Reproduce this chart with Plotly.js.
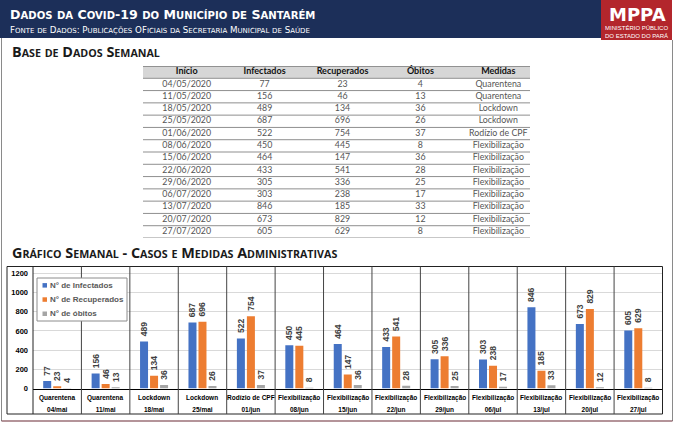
<!DOCTYPE html>
<html>
<head>
<meta charset="utf-8">
<script src="https://cdn.plot.ly/plotly-3.0.1.min.js"></script>
<style>html,body{margin:0;padding:0;background:#fff;}#chart{width:678px;height:424px;}</style>
</head>
<body>
<div id="chart"></div>
<script>
// ---------- data ----------
const startDates = ['04/05/2020','11/05/2020','18/05/2020','25/05/2020','01/06/2020','08/06/2020','15/06/2020','22/06/2020','29/06/2020','06/07/2020','13/07/2020','20/07/2020','27/07/2020'];
const weekLabels = ['04/mai','11/mai','18/mai','25/mai','01/jun','08/jun','15/jun','22/jun','29/jun','06/jul','13/jul','20/jul','27/jul'];
const infected  = [77,156,489,687,522,450,464,433,305,303,846,673,605];
const recovered = [23,46,134,696,754,445,147,541,336,238,185,829,629];
const deaths    = [4,13,36,26,37,8,36,28,25,17,33,12,8];
const measures  = ['Quarentena','Quarentena','Lockdown','Lockdown','Rodízio de CPF','Flexibilização','Flexibilização','Flexibilização','Flexibilização','Flexibilização','Flexibilização','Flexibilização','Flexibilização'];
const tableHeaders = ['Início','Infectados','Recuperados','Óbitos','Medidas'];
const seriesNames = ['N° de Infectados','N° de Recuperados','N° de óbitos'];
const yTicks = [0,200,400,600,800,1000,1200];

// ---------- helpers ----------
const W = 678, H = 424;
const X = p => p / W;
const Y = p => 1 - p / H;
const colors = ['#4472C4','#ED7D31','#A5A5A5'];
const series = [infected, recovered, deaths];

// manual small caps: lowercase letters become smaller capitals
function smallCaps(s, big, small) {
  let out = '', run = '', runSmall = null;
  const flush = () => { if (run) out += '<span style="font-size:' + (runSmall ? small : big) + 'px">' + run + '</span>'; run = ''; };
  for (const ch of s) {
    const isLower = ch !== ch.toUpperCase();
    if (runSmall !== null && isLower !== runSmall) flush();
    runSmall = isLower;
    run += ch.toUpperCase();
  }
  flush();
  return out;
}

const traces = [];
series.forEach((vals, k) => {
  traces.push({
    type: 'bar', x: weekLabels, y: vals, name: seriesNames[k],
    marker: {color: colors[k]},
    texttemplate: '\u00a0%{y}',
    textposition: 'outside', textangle: -90, constraintext: 'none', cliponaxis: false,
    textfont: {family: 'Arial, Liberation Sans', size: 8.5, color: '#404040', weight: 'bold'},
    showlegend: false, hoverinfo: 'skip', xaxis: 'x', yaxis: 'y'
  });
});

// table as text on its own axes
const columns = [startDates, infected, recovered, deaths, measures];
const tx = [], ty = [], tt = [];
columns.forEach((col, c) => col.forEach((v, r) => { tx.push(tableHeaders[c]); ty.push(r); tt.push(String(v)); }));
traces.push({
  type: 'scatter', mode: 'text', x: tx, y: ty, text: tt, xaxis: 'x2', yaxis: 'y2',
  textfont: {family: 'Lato, Open Sans', size: 8.8, color: '#555555'},
  showlegend: false, hoverinfo: 'skip', cliponaxis: false
});
traces.push({
  type: 'scatter', mode: 'text', x: tableHeaders, y: tableHeaders.map(() => -1), text: tableHeaders,
  xaxis: 'x2', yaxis: 'y2',
  textfont: {family: 'Lato, Open Sans', size: 9, color: '#111111', weight: 'bold'},
  showlegend: false, hoverinfo: 'skip', cliponaxis: false
});

// ---------- shapes ----------
const shapes = [];
shapes.push({type:'rect', xref:'paper', yref:'paper', x0:0, x1:X(601), y0:Y(38), y1:Y(0), fillcolor:'#1c2f59', line:{width:0}, layer:'below'});
shapes.push({type:'rect', xref:'paper', yref:'paper', x0:X(601), x1:X(672), y0:Y(40), y1:Y(0), fillcolor:'#b3262c', line:{width:0}, layer:'below'});
shapes.push({type:'line', xref:'paper', yref:'paper', x0:X(1.5), x1:X(1.5), y0:Y(421), y1:Y(38), line:{color:'#8a8a8a', width:1}});
shapes.push({type:'line', xref:'paper', yref:'paper', x0:X(672.5), x1:X(672.5), y0:Y(421), y1:Y(40), line:{color:'#8a8a8a', width:1}});
shapes.push({type:'line', xref:'paper', yref:'paper', x0:X(1.5), x1:X(672.5), y0:Y(421), y1:Y(421), line:{color:'#6b2a35', width:1.2}});
shapes.push({type:'rect', xref:'x2 domain', yref:'y2', x0:0, x1:1, y0:-1.5, y1:-0.5, fillcolor:'#d6d6d6', line:{width:0}, layer:'below'});
shapes.push({type:'line', xref:'x2 domain', yref:'y2', x0:0, x1:1, y0:-1.5, y1:-1.5, line:{color:'#7a7a7a', width:1.5}});
for (let r = -1; r < startDates.length; r++) {
  shapes.push({type:'line', xref:'x2 domain', yref:'y2', x0:0, x1:1, y0:r+0.5, y1:r+0.5, line:{color:'#8f8f8f', width:1}});
}
const boxL = X(7), boxR = X(662.5), boxT = Y(266.5), boxB = Y(414);
shapes.push({type:'line', xref:'paper', yref:'paper', x0:boxL, x1:boxR, y0:boxT, y1:boxT, line:{color:'#222', width:1}});
shapes.push({type:'line', xref:'paper', yref:'paper', x0:boxL, x1:boxR, y0:boxB, y1:boxB, line:{color:'#222', width:1}});
shapes.push({type:'line', xref:'paper', yref:'paper', x0:boxL, x1:boxL, y0:boxB, y1:boxT, line:{color:'#222', width:1}});
shapes.push({type:'line', xref:'x domain', yref:'paper', x0:0, x1:0, y0:boxB, y1:boxT, line:{color:'#222', width:1}});
shapes.push({type:'line', xref:'x domain', yref:'paper', x0:1, x1:1, y0:boxB, y1:boxT, line:{color:'#222', width:1}});
for (let i = 0; i < weekLabels.length - 1; i++) {
  shapes.push({type:'line', xref:'x', yref:'paper', x0:i+0.5, x1:i+0.5, y0:boxB, y1:boxT, line:{color:'#444', width:1}});
}
shapes.push({type:'rect', xref:'paper', yref:'paper', x0:X(37), x1:X(127), y0:Y(321), y1:Y(278), fillcolor:'#ffffff', line:{color:'#8c8c8c', width:1}, layer:'above'});

// ---------- annotations ----------
const ann = [];
const heading = (text, x, y, size, color, family, weight) => ({text, xref:'paper', yref:'paper', x, y, xanchor:'left', yanchor:'middle', showarrow:false,
  font:{size, color, family, weight: weight || 'normal'}});
ann.push(heading(smallCaps('Dados da Covid-19 do Município de Santarém', 12.6, 10.1), X(8), Y(15), 12.6, '#ffffff', 'DejaVu Sans', 'bold'));
ann.push(heading(smallCaps('Fonte de Dados: Publicações OFiciais da Secretaria Municipal de Saúde', 8.7, 7), X(8), Y(30), 8.7, '#ffffff', 'DejaVu Sans'));
ann.push({text:'<b>MPPA</b>', xref:'paper', yref:'paper', x:X(637), y:Y(14.5), xanchor:'center', yanchor:'middle', showarrow:false, font:{size:18, color:'#fff', family:'DejaVu Sans'}});
ann.push({text:'MINISTÉRIO PÚBLICO<br>DO ESTADO DO PARÁ', xref:'paper', yref:'paper', x:X(636), y:Y(31.5), xanchor:'center', yanchor:'middle', showarrow:false, font:{size:6, color:'#fff', family:'Arial, Liberation Sans'}});
ann.push(heading(smallCaps('Base de Dados Semanal', 14.4, 10.7), X(10), Y(52), 14.4, '#1a1a1a', 'Open Sans, Lato', 'bold'));
ann.push(heading(smallCaps('Gráfico Semanal - Casos e Medidas Administrativas', 14.4, 10.7), X(10), Y(252.5), 14.4, '#1a1a1a', 'Open Sans, Lato', 'bold'));
measures.forEach((m, i) => ann.push({text:'<b>'+m+'</b>', xref:'x', yref:'paper', x:weekLabels[i], y:Y(397.5), xanchor:'center', yanchor:'middle', showarrow:false, font:{size:6.5, color:'#000', family:'Arial, Liberation Sans'}}));
seriesNames.forEach((n, k) => {
  const yc = 285.3 + 14.2 * k;
  shapes.push({type:'rect', xref:'paper', yref:'paper', x0:X(42.5), x1:X(47), y0:Y(yc+2.3), y1:Y(yc-2.2), fillcolor:colors[k], line:{width:0}, layer:'above'});
  ann.push({text:'<b>'+n+'</b>', xref:'paper', yref:'paper', x:X(47.5), y:Y(yc), xanchor:'left', yanchor:'middle', showarrow:false, font:{size:8, color:'#595959', family:'Arial, Liberation Sans'}});
});

const layout = {
  width: W, height: H, margin: {l:0, r:0, t:0, b:0, pad:0},
  paper_bgcolor: '#ffffff', plot_bgcolor: '#ffffff', showlegend: false,
  barmode: 'group', bargap: 0.38, bargroupgap: 0.2,
  font: {family: 'Arial, Liberation Sans', color: '#000'},
  xaxis: {domain: [X(33), X(662.5)], anchor: 'y', type: 'category', range: [-0.5, weekLabels.length - 0.5],
    showline: true, linecolor: '#000', linewidth: 1.3, ticks: '', showgrid: false, automargin: false,
    ticklabelstandoff: 14, tickfont: {size: 6.5, color: '#000', weight: 'bold'}, fixedrange: true},
  yaxis: {domain: [Y(388.5), Y(266.5)], anchor: 'x', range: [0, 1272], tickvals: yTicks, ticktext: yTicks.map(String),
    showline: false, zeroline: false, showgrid: true, gridcolor: '#d9d9d9', gridwidth: 1, ticks: '', automargin: false,
    ticklabelstandoff: 4, tickfont: {size: 7.5, color: '#000', weight: 'bold'}, fixedrange: true},
  xaxis2: {domain: [X(143), X(530)], anchor: 'y2', type: 'category', categoryarray: tableHeaders, categoryorder: 'array',
    range: [-0.561, 4.407], visible: false, fixedrange: true},
  yaxis2: {domain: [Y(238), Y(66)], anchor: 'x2', range: [startDates.length - 0.5, -1.5], visible: false, fixedrange: true},
  shapes: shapes, annotations: ann
};

Plotly.newPlot('chart', traces, layout, {staticPlot: true, displayModeBar: false});
</script>
</body>
</html>
